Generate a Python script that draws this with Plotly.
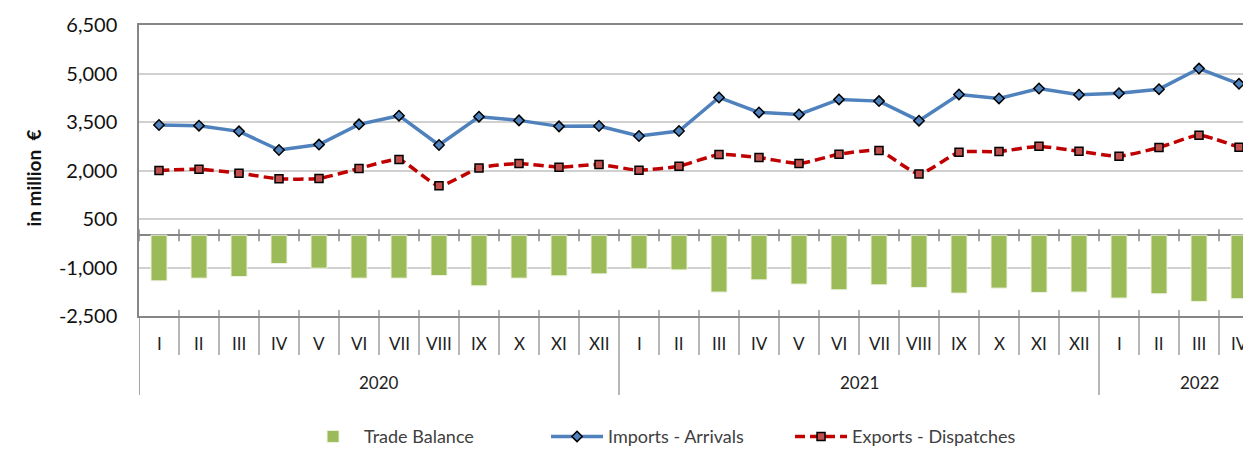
import plotly.graph_objects as go

years = ["2020"] * 12 + ["2021"] * 12 + ["2022"] * 4
months = ["I", "II", "III", "IV", "V", "VI", "VII", "VIII", "IX", "X", "XI", "XII"] * 2 + ["I", "II", "III", "IV"]

imports = [3406, 3387, 3211, 2635, 2801, 3427, 3695, 2789, 3664, 3550, 3365, 3375,
           3067, 3221, 4259, 3797, 3735, 4198, 4146, 3541, 4352, 4229, 4537, 4345,
           4392, 4515, 5153, 4681]
exports = [2000, 2040, 1917, 1741, 1754, 2062, 2339, 1526, 2080, 2216, 2102, 2185,
           2009, 2133, 2493, 2401, 2216, 2503, 2617, 1895, 2564, 2586, 2749, 2595,
           2441, 2709, 3088, 2718]
balance = [-1412, -1329, -1279, -878, -1020, -1329, -1329, -1248, -1566, -1329, -1257, -1196,
           -1042, -1073, -1760, -1381, -1513, -1689, -1535, -1618, -1791, -1637, -1772, -1760,
           -1945, -1812, -2050, -1966]

y_ticks = [-2500, -1000, 500, 2000, 3500, 5000, 6500]
y_ticktext = ["{:,}".format(v) for v in y_ticks]

idx = list(range(len(months)))
FONT = "Lato, 'Open Sans', sans-serif"
AXC = "#868686"

fig = go.Figure()
fig.add_trace(go.Bar(
    x=idx, y=balance, name="Trade Balance", width=0.4,
    marker=dict(color="#9BBB59", line=dict(color="#EEF3E2", width=1)),
))
fig.add_trace(go.Scatter(
    x=idx, y=imports, name="Imports - Arrivals", mode="lines+markers",
    line=dict(color="#4F81BD", width=3.5),
    marker=dict(symbol="diamond", size=8, color="#4F81BD", line=dict(color="#000", width=1.5)),
))
fig.add_trace(go.Scatter(
    x=idx, y=exports, name="Exports - Dispatches", mode="lines+markers",
    line=dict(color="#C00000", width=3.5, dash="10px,5px", shape="spline", smoothing=0.5),
    marker=dict(symbol="square", size=8, color="#C0504D", line=dict(color="#000", width=1.5)),
))

shapes = []
# crossing ticks on the zero line
for i in range(-1, len(idx)):
    shapes.append(dict(type="line", xref="x", yref="y", x0=i + 0.5, x1=i + 0.5, y0=-186, y1=186,
                       line=dict(color=AXC, width=1.5)))
# month / year separators below the plot
for i in range(len(idx)):
    x = i + 0.5
    long = (i + 1) % 12 == 0
    shapes.append(dict(type="line", xref="x", yref="paper", x0=x, x1=x, y0=0.0206,
                       y1=-0.2715 if long else -0.134, line=dict(color=AXC, width=1.2)))
shapes.append(dict(type="line", xref="x", yref="paper", x0=-0.5, x1=-0.5, y0=0, y1=-0.2715,
                   line=dict(color=AXC, width=1.5)))

annotations = []
for i, m in zip(idx, months):
    annotations.append(dict(x=i, y=-0.093, xref="x", yref="paper", text=m, showarrow=False,
                            yanchor="middle", font=dict(family=FONT, size=17, color="#222")))
year_list = []
for y in years:
    if y not in year_list:
        year_list.append(y)
for yr in year_list:
    pos = [i for i, y in zip(idx, years) if y == yr]
    xc = (pos[0] + pos[-1]) / 2 if len(pos) == 12 else (pos[0] + pos[-1] + 0.5) / 2 + 0.25
    annotations.append(dict(x=xc, y=-0.227, xref="x", yref="paper", text=yr, showarrow=False,
                            yanchor="middle", font=dict(family=FONT, size=17, color="#222")))
annotations.append(dict(x=-0.107, y=0.474, xref="paper", yref="paper",
                        text="<b>in million&nbsp; €</b>",
                        textangle=-90, showarrow=False, font=dict(family=FONT, size=19, color="#111")))

fig.update_layout(
    width=1243, height=442,
    margin=dict(l=131, r=0, t=17, b=134, autoexpand=False),
    paper_bgcolor="white", plot_bgcolor="white",
    font=dict(family=FONT, color="#222"),
    showlegend=True,
    legend=dict(orientation="h", xref="container", yref="container", x=0.531, xanchor="center",
                y=0.03, yanchor="middle", entrywidth=177, itemwidth=52,
                font=dict(family=FONT, size=18, color="#404040"), traceorder="normal"),
    xaxis=dict(range=[-0.5, 27.3], showticklabels=False, showgrid=False, zeroline=False,
               showline=True, linecolor=AXC, linewidth=2, mirror=True, ticks="", automargin=False),
    yaxis=dict(range=[-2500, 6500], tickvals=y_ticks, ticktext=y_ticktext, showgrid=True,
               gridcolor="#D0D0D0", gridwidth=1.5, zeroline=True, zerolinecolor=AXC,
               zerolinewidth=1.5, showline=True, linecolor=AXC, linewidth=1.5, automargin=False,
               ticks="", ticklabelstandoff=16, tickfont=dict(family=FONT, size=20, color="#111")),
    shapes=shapes,
    annotations=annotations,
)

fig.write_html("out.html")
